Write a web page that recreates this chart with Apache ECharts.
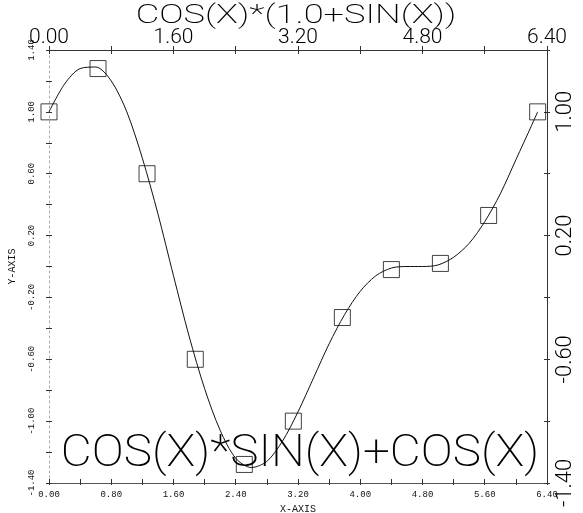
<!DOCTYPE html>
<html>
<head>
<meta charset="utf-8">
<script src="https://cdn.jsdelivr.net/npm/echarts@6/dist/echarts.min.js"></script>
<style>
  html, body { margin: 0; padding: 0; background: #fff; }
  #chart { width: 583px; height: 513px; }
</style>
</head>
<body>
<div id="chart"></div>
<script>
// Sampled points (open squares)
const markerX = [0.00, 0.63, 1.26, 1.88, 2.51, 3.14, 3.77, 4.40, 5.03, 5.65, 6.28];
const markerY = [1.00, 1.28, 0.60, -0.60, -1.28, -1.00, -0.33, -0.02, 0.02, 0.33, 1.00];

// Continuous curve read along x
const curveX = [0.0, 0.2, 0.4, 0.6, 0.8, 1.0, 1.2, 1.4, 1.6, 1.8, 2.0, 2.2, 2.4, 2.6, 2.8, 3.0,
                3.2, 3.4, 3.6, 3.8, 4.0, 4.2, 4.4, 4.6, 4.8, 5.0, 5.2, 5.4, 5.6, 5.8, 6.0, 6.2, 6.28];
const curveY = [1.00, 1.18, 1.28, 1.29, 1.20, 1.00, 0.70, 0.34, -0.06, -0.45, -0.79, -1.06, -1.24, -1.30, -1.26, -1.13,
                -0.94, -0.72, -0.50, -0.31, -0.16, -0.06, -0.01, 0.00, 0.00, 0.01, 0.06, 0.15, 0.29, 0.47, 0.69, 0.91, 1.00];

const titleText = 'COS(X)*(1.0+SIN(X))';
const innerText = 'COS(X)*SIN(X)+COS(X)';
const xName = 'X-AXIS';
const yName = 'Y-AXIS';

const MONO = '"Liberation Mono", "DejaVu Sans Mono", monospace';
const THIN = 'Roboto, "Noto Sans", sans-serif';
const INK = '#000';

const chart = echarts.init(document.getElementById('chart'), null, { renderer: 'canvas' });

const fmt2 = v => v.toFixed(2);

const option = {
  animation: false,
  backgroundColor: '#fff',
  grid: { left: 49, right: 36, top: 50, bottom: 30, containLabel: false, outerBoundsMode: 'none' },
  xAxis: [
    { // bottom: labels every 0.8, ticks every 0.4 (inner part)
      type: 'value', position: 'bottom', min: 0, max: 6.4, interval: 0.8,
      name: xName, nameLocation: 'middle', nameGap: 21,
      nameTextStyle: { fontFamily: MONO, fontSize: 10, color: '#111' },
      axisLine: { show: true, onZero: false, lineStyle: { color: '#555', width: 1 } },
      axisTick: { show: true, inside: true, length: 4, lineStyle: { color: '#333' } },
      minorTick: { show: true, splitNumber: 2, length: 4, lineStyle: { color: '#333' } },
      splitLine: { show: false }, minorSplitLine: { show: false },
      axisLabel: { fontFamily: MONO, fontSize: 9, color: '#111', margin: 7, formatter: fmt2, showMinLabel: true, showMaxLabel: true }
    },
    { // bottom: outer part of crossing ticks
      type: 'value', position: 'bottom', min: 0, max: 6.4, interval: 0.4,
      axisLine: { show: false, onZero: false },
      axisTick: { show: true, inside: false, length: 2, lineStyle: { color: '#333' } },
      axisLabel: { show: false }, splitLine: { show: false }
    },
    { // top: ticks every 0.8, labels every 1.6
      type: 'value', position: 'top', min: 0, max: 6.4, interval: 0.8,
      axisLine: { show: true, onZero: false, lineStyle: { color: '#333', width: 1 } },
      axisTick: { show: true, inside: true, length: 4, lineStyle: { color: '#333' } },
      axisLabel: {
        fontFamily: THIN, fontWeight: 300, fontSize: 21, color: INK, margin: 2,
        showMinLabel: true, showMaxLabel: true,
        formatter: v => (Math.round(v / 0.8) % 2 === 0 ? fmt2(v) : '')
      },
      splitLine: { show: false }
    },
    { // top: outer part of crossing ticks
      type: 'value', position: 'top', min: 0, max: 6.4, interval: 0.8,
      axisLine: { show: false, onZero: false },
      axisTick: { show: true, inside: false, length: 4, lineStyle: { color: '#333' } },
      axisLabel: { show: false }, splitLine: { show: false }
    }
  ],
  yAxis: [
    { // left: labels every 0.4, ticks every 0.2
      type: 'value', position: 'left', min: -1.4, max: 1.4, interval: 0.4,
      name: yName, nameLocation: 'middle', nameGap: 32, nameRotate: 90,
      nameTextStyle: { fontFamily: MONO, fontSize: 10, color: '#111' },
      axisLine: { show: true, onZero: false, lineStyle: { color: '#aaa', width: 1, type: [2, 3] } },
      axisTick: { show: true, inside: true, length: 3, lineStyle: { color: '#333' } },
      minorTick: { show: true, splitNumber: 2, length: 3, lineStyle: { color: '#333' } },
      axisLabel: { fontFamily: MONO, fontSize: 9, color: '#111', rotate: 90, margin: 13, formatter: fmt2, showMinLabel: true, showMaxLabel: true },
      splitLine: { show: false }, minorSplitLine: { show: false }
    },
    { // left: outer part of crossing ticks
      type: 'value', position: 'left', min: -1.4, max: 1.4, interval: 0.4,
      axisLine: { show: false, onZero: false },
      axisTick: { show: true, inside: false, length: 3, lineStyle: { color: '#333' } },
      minorTick: { show: true, splitNumber: 2, length: 3, lineStyle: { color: '#333' } },
      axisLabel: { show: false }, splitLine: { show: false }, minorSplitLine: { show: false }
    },
    { // right: ticks every 0.4, labels every 0.8
      type: 'value', position: 'right', min: -1.4, max: 1.4, interval: 0.4,
      axisLine: { show: true, onZero: false, lineStyle: { color: '#333', width: 1 } },
      axisTick: { show: true, inside: true, length: 3, lineStyle: { color: '#333' } },
      axisLabel: {
        fontFamily: THIN, fontWeight: 300, fontSize: 22, color: INK, rotate: 90, margin: 7,
        showMinLabel: true, showMaxLabel: true,
        formatter: v => (Math.round((v + 1.4) / 0.4) % 2 === 0 ? fmt2(v) : '')
      },
      splitLine: { show: false }
    },
    { // right: outer part of crossing ticks
      type: 'value', position: 'right', min: -1.4, max: 1.4, interval: 0.4,
      axisLine: { show: false, onZero: false },
      axisTick: { show: true, inside: false, length: 3, lineStyle: { color: '#333' } },
      axisLabel: { show: false }, splitLine: { show: false }
    }
  ],
  graphic: [
    {
      type: 'text', x: 296, y: 17, scaleX: 1.45, z: 10,
      style: { text: titleText, x: 0, y: 0, align: 'center', verticalAlign: 'middle', font: '200 25px ' + THIN, fill: INK }
    },
    {
      type: 'text', x: 300, y: 455, scaleX: 1.06, z: 10,
      style: { text: innerText, x: 0, y: 0, align: 'center', verticalAlign: 'middle', font: '200 45px ' + THIN, fill: INK }
    }
  ],
  series: [
    {
      type: 'line', xAxisIndex: 0, yAxisIndex: 0,
      data: curveX.map((x, i) => [x, curveY[i]]),
      smooth: 0.3, showSymbol: false, symbol: 'none',
      lineStyle: { color: '#111', width: 1 }, z: 3
    },
    {
      type: 'scatter', xAxisIndex: 0, yAxisIndex: 0,
      data: markerX.map((x, i) => [x, markerY[i]]),
      symbol: 'rect', symbolSize: 16,
      itemStyle: { color: 'rgba(0,0,0,0)', borderColor: '#111', borderWidth: 1 }, z: 4
    }
  ]
};

chart.setOption(option);
</script>
</body>
</html>
